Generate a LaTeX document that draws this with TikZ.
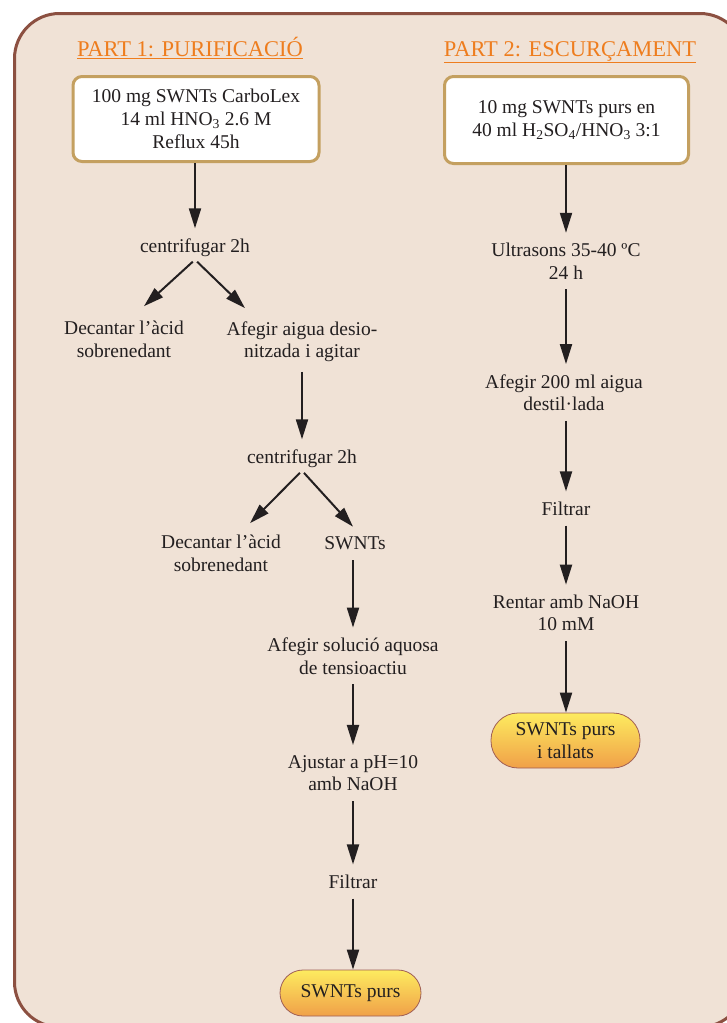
\documentclass[tikz,border=0pt]{standalone}
\usepackage{fontspec}
\setmainfont{Liberation Serif}
\usepackage{tikz}
\usetikzlibrary{arrows.meta, positioning}
\definecolor{panelbg}{RGB}{240,226,214}
\definecolor{panelline}{RGB}{140,80,65}
\definecolor{headorg}{RGB}{238,125,30}
\definecolor{boxline}{RGB}{196,160,96}
\definecolor{inkdark}{RGB}{35,31,32}
\definecolor{capyellow}{RGB}{253,235,95}
\definecolor{caporange}{RGB}{240,160,72}
\definecolor{capline}{RGB}{160,95,85}
\tikzset{
  panel/.style={draw=panelline, fill=panelbg, line width=3pt, rounded corners=45pt},
  head/.style={font=\fontsize{22.5}{26}\selectfont, text=headorg, inner sep=0pt, anchor=base},
  startbox/.style={rectangle, draw=boxline, fill=white, line width=3pt,
    rounded corners=9pt, align=center, text=inkdark,
    font=\fontsize{19.5}{23}\selectfont},
  txt/.style={align=center, inner sep=3pt, text=inkdark,
    font=\fontsize{19.5}{22.5}\selectfont},
  endcap/.style={rectangle, draw=capline, line width=0.8pt, top color=capyellow,
    bottom color=caporange, align=center, text=inkdark,
    font=\fontsize{19.5}{22.5}\selectfont},
  arr/.style={-{Triangle[length=20pt, width=12pt]}, line width=2pt, inkdark,
    shorten <=7pt, shorten >=7pt},
  fork/.style={-{Triangle[length=20pt, width=12pt]}, line width=2pt, inkdark,
    shorten <=3pt},
}

\begin{document}
\begin{tikzpicture}[x=1pt, y=-1pt]
\useasboundingbox (0,0) rectangle (727,1023);
\draw[panel] (14.5,13.5) rectangle (745,1027);

% Part 1
\node[head] (head1) at (190,56) {\underline{PART 1: PURIFICACIÓ}};
\node[startbox, minimum width=246, minimum height=85] (box1) at (196,119)
  {100 mg SWNTs CarboLex\\14 ml HNO\textsubscript{3} 2.6 M\\Reflux 45h};
\node[txt] (cent1) at (195,247.5) {centrifugar 2h};
\node[txt] (dec1) at (124,339.5) {Decantar l’àcid\\sobrenedant};
\node[txt] (add1) at (302,341.5) {Afegir aigua desio-\\nitzada i agitar};
\node[txt] (cent2) at (302,458.5) {centrifugar 2h};
\node[txt] (dec2) at (221,553.5) {Decantar l’àcid\\sobrenedant};
\node[txt] (swnt) at (355,543.5) {SWNTs};
\node[txt] (surf) at (353,656) {Afegir solució aquosa\\de tensioactiu};
\node[txt] (ph) at (353,773) {Ajustar a pH=10\\amb NaOH};
\node[txt] (filt1) at (353,881.5) {Filtrar};
\node[endcap, minimum width=141, minimum height=46, rounded corners=23pt] (end1)
  at (350.5,993) {SWNTs purs};

\draw[arr, shorten <=0pt] (box1.south -| cent1) -- (cent1.north);
\draw[fork] (cent1.south) -- ([xshift=20pt, yshift=12pt]dec1.north);
\draw[fork] (cent1.south) -- ([xshift=-57pt, yshift=10pt]add1.north);
\draw[arr] (add1.south) -- (cent2.north);
\draw[fork] (cent2.south) -- ([xshift=29pt, yshift=9pt]dec2.north);
\draw[fork] (cent2.south) -- ([xshift=-2pt, yshift=7pt]swnt.north);
\draw[arr] (swnt.south -| surf) -- (surf.north);
\draw[arr] (surf.south) -- (ph.north);
\draw[arr] (ph.south) -- (filt1.north);
\draw[arr, shorten >=0pt] (filt1.south) -- (filt1.south |- end1.north);

% Part 2
\node[head] (head2) at (570,56) {\underline{PART 2: ESCURÇAMENT}};
\node[startbox, minimum width=244, minimum height=87] (box2) at (566.5,120)
  {10 mg SWNTs purs en\\40 ml H\textsubscript{2}SO\textsubscript{4}/HNO\textsubscript{3} 3:1};
\node[txt] (ultra) at (566,261) {Ultrasons 35-40 ºC\\24 h};
\node[txt] (water) at (564,392.5) {Afegir 200 ml aigua\\destil·lada};
\node[txt] (filt2) at (566,508.5) {Filtrar};
\node[txt] (wash) at (566,613) {Rentar amb NaOH\\10 mM};
\node[endcap, minimum width=149, minimum height=55, rounded corners=27pt] (end2)
  at (565.5,740.5) {SWNTs purs\\i tallats};

\draw[arr, shorten <=0pt] (box2.south -| ultra) -- (ultra.north);
\draw[arr] (ultra.south) -- (ultra.south |- water.north);
\draw[arr] (water.south -| filt2) -- (filt2.north);
\draw[arr] (filt2.south) -- (wash.north);
\draw[arr, shorten >=0pt] (wash.south) -- (wash.south |- end2.north);

\end{tikzpicture}
\end{document}
